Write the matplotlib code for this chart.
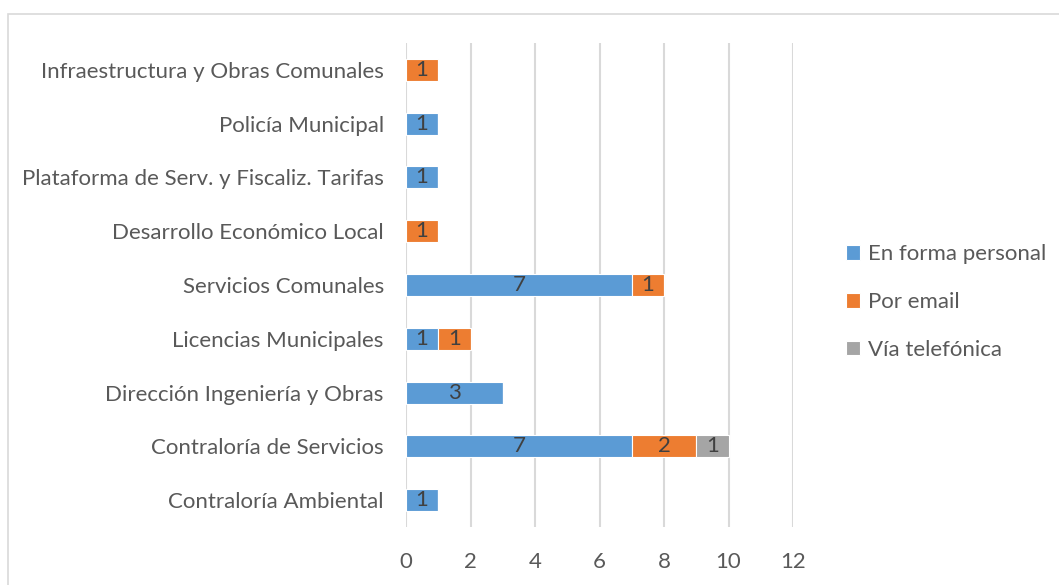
import numpy as np
import matplotlib.pyplot as plt
from matplotlib.patches import Rectangle

# datos (de abajo hacia arriba)
categorias = ['Contraloría Ambiental', 'Contraloría de Servicios',
              'Dirección Ingeniería y Obras', 'Licencias Municipales',
              'Servicios Comunales', 'Desarrollo Económico Local',
              'Plataforma de Serv. y Fiscaliz. Tarifas', 'Policía Municipal',
              'Infraestructura y Obras Comunales']
personal = [1, 7, 3, 1, 7, 0, 1, 1, 0]
email = [0, 2, 0, 1, 1, 1, 0, 0, 1]
telefono = [0, 1, 0, 0, 0, 0, 0, 0, 0]
series = ['En forma personal', 'Por email', 'Vía telefónica']
colores = ['#5B9BD5', '#ED7D31', '#A5A5A5']
xticks = [0, 2, 4, 6, 8, 10, 12]

plt.rcParams['font.family'] = ['Lato', 'DejaVu Sans']
gris = '#595959'
fs = 16

fig = plt.figure(figsize=(10.59, 5.85), dpi=100)
ax = fig.add_axes([406/1059, 1 - 527/585, 387/1059, 484/585])

y = np.arange(len(categorias))
izq = np.zeros(len(categorias))
for vals, nombre, col in zip([personal, email, telefono], series, colores):
    vals = np.array(vals, dtype=float)
    barras = ax.barh(y, vals, left=izq, height=0.41, color=col,
                     edgecolor='white', linewidth=0.8, label=nombre, zorder=3)
    etiquetas = [str(int(v)) if v > 0 else '' for v in vals]
    ax.bar_label(barras, labels=etiquetas, label_type='center',
                 fontsize=fs, color='#404040')
    izq += vals

ax.set_xlim(0, 12)
ax.set_ylim(-0.5, len(categorias) - 0.5)
ax.set_xticks(xticks)
ax.set_yticks(y)
ax.set_yticklabels(categorias)
ax.tick_params(axis='both', length=0, labelsize=fs, colors=gris)
ax.tick_params(axis='y', pad=16)
ax.tick_params(axis='x', pad=18)
ax.grid(axis='x', color='#D9D9D9', linewidth=1.5, zorder=0)
for s in ['top', 'right', 'bottom', 'left']:
    ax.spines[s].set_visible(False)

fig.legend(loc='center left', bbox_to_anchor=(826/1059, 1 - 302/585),
           frameon=False, fontsize=fs, handlelength=0.65, handleheight=0.65,
           handletextpad=0.35, labelspacing=1.25, labelcolor=gris)

fig.patches.append(Rectangle((8/1059, -0.1), 1.2, 1 - 14/585 + 0.1,
                             transform=fig.transFigure, fill=False,
                             edgecolor='#D9D9D9', linewidth=1.2))

plt.savefig('out.png', dpi=100)
